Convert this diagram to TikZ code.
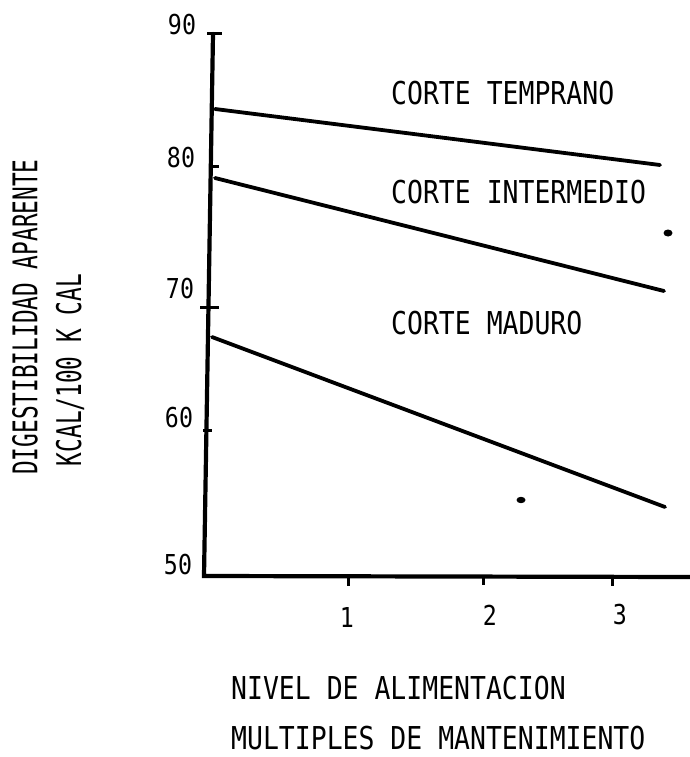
\documentclass[tikz,border=0pt]{standalone}
\usepackage{fontspec}
\newfontfamily\lblfont[FakeStretch=0.84]{DejaVu Sans Mono}
\newfontfamily\tickfont[FakeStretch=0.85]{DejaVu Sans Mono}
\newfontfamily\yfont[FakeStretch=0.67]{DejaVu Sans Mono}
\begin{document}
\begin{tikzpicture}[x=1pt,y=-1pt,
  lbl/.style={inner sep=0pt,font=\lblfont\fontsize{31.5}{36}\selectfont},
  ticklbl/.style={inner sep=0pt,font=\tickfont\fontsize{27.4}{32}\selectfont},
  ylbl/.style={inner sep=0pt,rotate=90,font=\yfont\fontsize{34}{40}\selectfont},
  axisline/.style={line width=4.2pt,line cap=round},
  curve/.style={line width=3.8pt,line cap=round},
  tickline/.style={line width=3pt},
  spot/.style={fill=black,draw=none}]
\useasboundingbox (0,0) rectangle (690,757);
% axes
\coordinate (ytop) at (213,34);
\coordinate (orig) at (204,576);
\coordinate (xend) at (690,577);
\draw[axisline] (ytop) -- (orig) -- (xend);
\draw[tickline] (207,34) -- (222,34);
% y ticks
\draw[tickline] (212,166) -- (219,166);
\draw[tickline] (200,307) -- (219,307);
\draw[tickline] (203,430) -- (212,430);
% x ticks
\draw[tickline] (348,576) -- (348,586);
\draw[tickline] (483,576) -- (483,585);
\draw[tickline] (612,577) -- (612,586);
% curves
\coordinate (t1) at (215,109); \coordinate (t2) at (660,165);
\coordinate (i1) at (215,178); \coordinate (i2) at (664,291);
\coordinate (m1) at (212,337); \coordinate (m2) at (665,507);
\draw[curve] (t1) -- (t2);
\draw[curve] (i1) -- (i2);
\draw[curve] (m1) -- (m2);
% specks
\fill[spot] (668,233) ellipse (4.5 and 3.5);
\fill[spot] (521,500) ellipse (4.5 and 3.2);
% curve labels
\node[lbl,anchor=west] (lt) at (391,93) {CORTE TEMPRANO};
\node[lbl,anchor=west] (li) at (391,192) {CORTE INTERMEDIO};
\node[lbl,anchor=west] (lm) at (391,323) {CORTE MADURO};
% tick labels
\node[ticklbl] (y90) at (182,25) {90};
\node[ticklbl] (y80) at (181,158) {80};
\node[ticklbl] (y70) at (180,289) {70};
\node[ticklbl] (y60) at (179,418) {60};
\node[ticklbl] (y50) at (178,565) {50};
\node[ticklbl] (x1) at (347,618) {1};
\node[ticklbl] (x2) at (490,615) {2};
\node[ticklbl] (x3) at (620,615) {3};
% axis titles
\node[ylbl] (yt1) at (25,317) {DIGESTIBILIDAD APARENTE};
\node[ylbl] (yt2) at (70,370) {KCAL/100 K CAL};
\node[lbl,anchor=west] (xt1) at (231,688) {NIVEL DE ALIMENTACION};
\node[lbl,anchor=west] (xt2) at (231,738) {MULTIPLES DE MANTENIMIENTO};
\end{tikzpicture}
\end{document}
